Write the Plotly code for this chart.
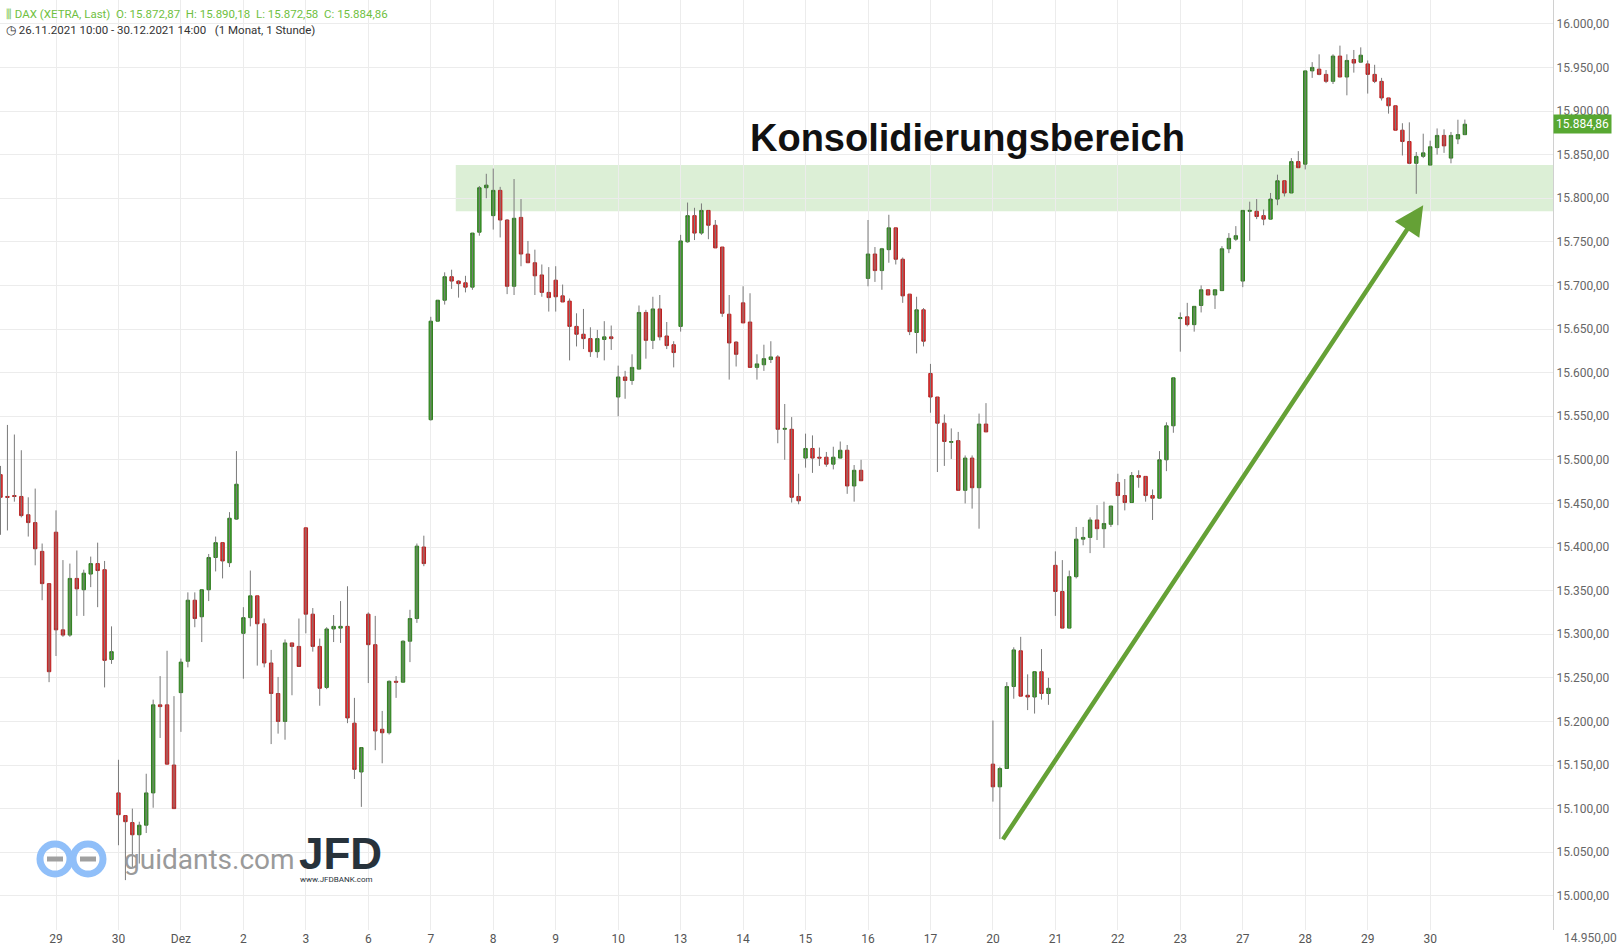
import plotly.graph_objects as go

day_labels = ["29","30","Dez","2","3","6","7","8","9","10","13","14","15","16","17","20","21","22","23","27","28","29","30"]
first_day_count = 8  # 26.11 from 10:00
per_day = 9

opens = [
 15483,15458,15459,15458,15437,15428,15395,15358,
 15417,15305,15299,15364,15351,15369,15381,15374,15271,
 15118,15092,15084,15070,15081,15118,15219,15219,15150,
 15233,15269,15339,15320,15351,15388,15405,15382,15432,
 15301,15319,15344,15312,15267,15232,15200,15290,15286,
 15422,15323,15286,15239,15306,15307,15309,15198,15142,
 15323,15288,15191,15187,15246,15245,15292,15318,15400,
 15546,15659,15683,15710,15705,15703,15698,15761,15812,
 15780,15809,15775,15699,15778,15736,15726,15712,15692,
 15706,15688,15682,15653,15644,15639,15624,15638,15641,
 15572,15595,15591,15604,15669,15637,15673,15642,15632,
 15653,15750,15780,15760,15786,15769,15744,15667,15635,
 15680,15658,15606,15609,15615,15618,15535,15535,15458,
 15502,15513,15503,15503,15495,15502,15511,15470,15488,
 15708,15736,15717,15741,15766,15730,15690,15646,15672,
 15599,15572,15542,15520,15522,15465,15502,15468,15541,
 15151,15125,15146,15240,15281,15230,15228,15257,15232,
 15379,15349,15307,15366,15409,15411,15431,15421,15426,
 15474,15459,15451,15482,15481,15459,15456,15500,15539,
 15662,15664,15655,15677,15695,15689,15694,15742,15753,
 15705,15785,15785,15780,15776,15799,15820,15806,15842,
 15839,15946,15948,15942,15934,15963,15939,15959,15956,
 15954,15942,15934,15915,15906,15878,15865,15840,15848,
 15838,15858,15872,15846,15868,15872.87]
highs = [
 15493,15540,15529,15511,15457,15467,15404,15358,
 15442,15385,15381,15396,15374,15389,15405,15384,15309,
 15156,15092,15100,15085,15140,15225,15252,15281,15229,
 15272,15348,15348,15351,15392,15412,15405,15440,15510,
 15331,15373,15344,15318,15282,15251,15294,15290,15318,
 15422,15330,15295,15308,15322,15338,15355,15227,15170,
 15325,15321,15212,15247,15252,15293,15328,15404,15413,
 15664,15683,15715,15718,15706,15711,15760,15814,15828,
 15834,15813,15776,15822,15799,15751,15741,15724,15721,
 15722,15701,15685,15668,15673,15652,15649,15659,15654,
 15608,15602,15621,15677,15672,15687,15689,15658,15636,
 15758,15795,15789,15794,15786,15775,15744,15689,15636,
 15699,15691,15621,15632,15636,15620,15564,15549,15484,
 15530,15528,15514,15509,15515,15521,15517,15494,15500,
 15775,15744,15743,15781,15766,15732,15690,15687,15674,
 15610,15572,15552,15536,15532,15505,15505,15553,15565,
 15201,15148,15245,15285,15297,15254,15257,15283,15250,
 15395,15385,15373,15423,15423,15434,15448,15452,15447,
 15484,15478,15486,15488,15481,15466,15510,15543,15594,
 15669,15680,15676,15700,15695,15695,15745,15760,15768,
 15786,15796,15799,15787,15806,15827,15820,15846,15854,
 15946,15956,15965,15947,15965,15975,15965,15970,15973,
 15958,15953,15938,15915,15906,15886,15887,15853,15874,
 15866,15880,15879,15876,15890,15890.18]
lows = [
 15414,15419,15452,15434,15412,15379,15339,15245,
 15275,15297,15297,15321,15321,15354,15331,15239,15266,
 15058,15018,15033,15037,15072,15101,15181,15151,15100,
 15188,15262,15308,15291,15338,15372,15364,15377,15431,
 15249,15309,15264,15262,15174,15186,15179,15230,15263,
 15301,15280,15218,15237,15291,15290,15198,15134,15102,
 15244,15167,15152,15185,15227,15245,15268,15313,15378,
 15545,15659,15678,15696,15686,15692,15695,15757,15800,
 15764,15755,15690,15689,15722,15726,15689,15687,15670,
 15670,15681,15614,15630,15627,15618,15617,15614,15626,
 15550,15570,15586,15604,15616,15627,15637,15627,15606,
 15647,15749,15752,15758,15753,15743,15664,15592,15607,
 15657,15606,15592,15602,15611,15519,15500,15451,15449,
 15491,15485,15493,15492,15489,15502,15461,15452,15476,
 15699,15704,15695,15726,15724,15680,15643,15622,15630,
 15554,15486,15493,15501,15465,15450,15444,15421,15532,
 15108,15065,15146,15226,15229,15213,15209,15225,15219,
 15321,15307,15307,15364,15402,15393,15408,15399,15423,
 15425,15442,15451,15468,15452,15431,15456,15487,15531,
 15624,15653,15647,15669,15689,15673,15694,15737,15751,
 15698,15751,15776,15769,15776,15792,15802,15806,15835,
 15833,15938,15941,15932,15931,15939,15918,15944,15955,
 15920,15932,15912,15897,15878,15849,15839,15805,15846,
 15838,15850,15852,15840,15862,15872.58]
closes = [
 15457,15457,15458,15436,15428,15398,15358,15257,
 15305,15299,15364,15352,15370,15381,15373,15270,15280,
 15093,15085,15070,15081,15118,15219,15217,15151,15100,
 15268,15339,15318,15351,15388,15405,15384,15433,15472,
 15319,15344,15312,15267,15232,15200,15290,15286,15263,
 15323,15286,15238,15306,15309,15309,15204,15145,15170,
 15288,15189,15187,15246,15245,15292,15318,15401,15381,
 15659,15683,15710,15705,15702,15698,15760,15812,15815,
 15809,15775,15699,15777,15736,15726,15711,15692,15686,
 15687,15681,15653,15644,15639,15624,15639,15641,15639,
 15595,15591,15606,15669,15637,15673,15641,15631,15623,
 15751,15780,15760,15786,15769,15743,15668,15634,15621,
 15657,15606,15610,15616,15618,15535,15536,15457,15453,
 15513,15502,15502,15495,15503,15511,15470,15488,15476,
 15736,15717,15742,15766,15730,15688,15647,15672,15636,
 15572,15542,15521,15521,15465,15502,15468,15541,15532,
 15125,15146,15240,15282,15229,15228,15257,15232,15238,
 15349,15307,15366,15409,15411,15431,15421,15427,15447,
 15459,15451,15482,15480,15459,15456,15500,15539,15594,
 15663,15655,15676,15695,15689,15695,15742,15754,15757,
 15786,15786,15779,15776,15799,15820,15806,15842,15835,
 15946,15950,15942,15934,15963,15939,15958,15955,15964,
 15942,15934,15915,15906,15878,15865,15840,15848,15852,
 15859,15872,15860,15872,15873,15884.86]

y_ticks = list(range(14950, 16001, 50))
band_low, band_high = 15785, 15838

n = len(closes)
x = list(range(n))
tick_idx = [first_day_count + per_day * k for k in range(len(day_labels))]

def de(v):
    s = f"{v:,.2f}"
    return s.replace(",", "X").replace(".", ",").replace("X", ".")

wx, wy = [], []
for i in range(n):
    wx += [i, i, None]
    wy += [lows[i], highs[i], None]

fig = go.Figure()
fig.add_shape(type="rect", x0=65.6, x1=240, y0=band_low, y1=band_high,
              fillcolor="rgba(150,205,130,0.33)", line_width=0, layer="below")
fig.add_trace(go.Scatter(x=wx, y=wy, mode="lines", line=dict(color="#7a7a7a", width=1),
                         hoverinfo="skip", showlegend=False))
fig.add_trace(go.Candlestick(
    x=x, open=opens, close=closes,
    high=[max(o, c) for o, c in zip(opens, closes)],
    low=[min(o, c) for o, c in zip(opens, closes)],
    increasing=dict(fillcolor="#3f9f2c", line=dict(color="#2f7d1f", width=1)),
    decreasing=dict(fillcolor="#e23232", line=dict(color="#b82020", width=1)),
    whiskerwidth=0, showlegend=False))

fig.add_annotation(x=139.4, y=15869, text="<b>Konsolidierungsbereich</b>", showarrow=False,
                   font=dict(family="Liberation Sans, Arial", size=38, color="#111"))
fig.add_annotation(x=205, y=15792, ax=144.3, ay=15063, xref="x", yref="y", axref="x", ayref="y",
                   text="", showarrow=True, arrowhead=2, arrowsize=1.3, arrowwidth=4.5,
                   arrowcolor="#65a136")
fig.add_annotation(x=1, y=closes[-1], xref="paper", yref="y", xanchor="left", text=de(closes[-1]),
                   showarrow=False, bgcolor="#58a832", font=dict(color="white", size=12),
                   borderpad=2)
PW, PH = 1553.0, 930.0
fig.add_annotation(x=1, y=1 - 938 / PH, xref="paper", yref="paper", xanchor="left", yanchor="middle",
                   xshift=9, text=de(14950), showarrow=False, font=dict(size=12, color="#666"))
fig.add_annotation(x=0.0, y=1, xref="paper", yref="paper", xanchor="left", yanchor="top", xshift=4, yshift=-5,
                   text="⫼ DAX (XETRA, Last)  O: 15.872,87  H: 15.890,18  L: 15.872,58  C: 15.884,86",
                   showarrow=False, font=dict(size=11.5, color="#6fbf3f", family="Roboto, Arial"))
fig.add_annotation(x=0.0, y=1, xref="paper", yref="paper", xanchor="left", yanchor="top", xshift=4, yshift=-21,
                   text="◷ 26.11.2021 10:00 - 30.12.2021 14:00   (1 Monat, 1 Stunde)",
                   showarrow=False, font=dict(size=11.5, color="#333", family="Roboto, Arial"))
# watermark (plot area 1553 x 930 px)
for cx in (55, 88):
    fig.add_shape(type="circle", xref="paper", yref="paper", x0=(cx - 15) / PW, x1=(cx + 15) / PW,
                  y0=1 - (859 + 15) / PH, y1=1 - (859 - 15) / PH, line=dict(color="#90bff9", width=7))
    fig.add_shape(type="line", xref="paper", yref="paper", x0=(cx - 8) / PW, x1=(cx + 8) / PW,
                  y0=1 - 859 / PH, y1=1 - 859 / PH, line=dict(color="#a0a0a0", width=5))
fig.add_annotation(x=122 / PW, y=1 - 859 / PH, xref="paper", yref="paper", xanchor="left", yanchor="middle",
                   text="guidants.com", showarrow=False,
                   font=dict(size=28, color="#9a9a9a", family="Roboto, Arial"))
fig.add_annotation(x=297 / PW, y=1 - 853 / PH, xref="paper", yref="paper", xanchor="left", yanchor="middle",
                   text="<b>JFD</b>", showarrow=False,
                   font=dict(size=44, color="#27323b", family="Liberation Sans, Arial"))
fig.add_annotation(x=298 / PW, y=1 - 879 / PH, xref="paper", yref="paper", xanchor="left", yanchor="middle",
                   text="www.JFDBANK.com", showarrow=False, font=dict(size=8, color="#27323b"))

fig.update_layout(
    width=1623, height=950, margin=dict(l=0, r=70, t=0, b=20),
    paper_bgcolor="white", plot_bgcolor="white",
    xaxis=dict(range=[-0.07, 223.7], tickvals=tick_idx, ticktext=day_labels,
               showgrid=True, gridcolor="#ececec", rangeslider=dict(visible=False),
               tickfont=dict(size=12, color="#555"), ticklabelstandoff=0,
               zeroline=False, showline=False),
    yaxis=dict(side="right", range=[14960.8, 16027.3], tickvals=y_ticks,
               ticktext=[de(v) for v in y_ticks], showgrid=True, gridcolor="#ececec",
               tickfont=dict(size=12, color="#666"), zeroline=False,
               showline=True, linecolor="#d0d0d0", ticks=""),
    font=dict(family="Roboto, Arial"),
)
fig.write_html("out.html", config={"displayModeBar": False},
               post_script="document.body.style.margin='0';")
